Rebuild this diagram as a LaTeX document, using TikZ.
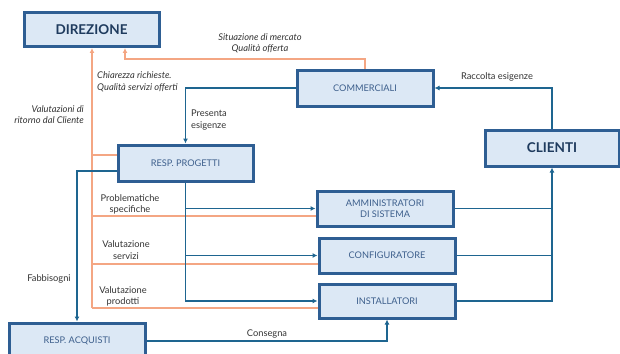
\documentclass[tikz,border=0pt]{standalone}
\usepackage{fontspec}
\setmainfont{Lato}
\usetikzlibrary{arrows.meta,calc}
\definecolor{boxfill}{HTML}{DCE8F5}
\definecolor{boxline}{HTML}{2E5E93}
\definecolor{flowblue}{HTML}{1E6590}
\definecolor{floworange}{HTML}{F4A683}
\definecolor{boxtext}{HTML}{3D5F8C}
\definecolor{headtext}{HTML}{1F3B5E}
\definecolor{labeltext}{HTML}{333333}
\tikzset{
  unitbox/.style={draw=boxline, line width=3pt, fill=boxfill, inner sep=0pt,
    align=center, text=boxtext, font=\fontsize{9.2}{11}\selectfont},
  headbox/.style={unitbox, text=headtext, font=\fontsize{13.5}{15}\selectfont\bfseries},
  bl/.style={draw=flowblue, line width=1.7pt},
  orl/.style={draw=floworange, line width=1.7pt},
  tip/.style={-{Latex[length=5pt,width=5pt]}},
  lbl/.style={text=labeltext, font=\fontsize{9.3}{11.5}\selectfont, align=center, inner sep=0pt},
  ilbl/.style={lbl, font=\fontsize{9.3}{11.5}\selectfont\itshape}
}
\begin{document}
\begin{tikzpicture}[x=1pt,y=-1pt]
\useasboundingbox (0,0) rectangle (620,353);

% units
\node[headbox, minimum width=135pt, minimum height=34pt] (dir) at (91.5,29.5) {DIREZIONE};
\node[unitbox, minimum width=136pt, minimum height=36pt] (comm) at (365,88) {COMMERCIALI};
\node[unitbox, minimum width=135pt, minimum height=36pt] (rp) at (185.5,163) {RESP. PROGETTI};
\node[headbox, minimum width=134pt, minimum height=36pt] (cli) at (552,148) {CLIENTI};
\node[unitbox, minimum width=136pt, minimum height=35pt] (amm) at (385,208.5) {AMMINISTRATORI\\DI SISTEMA};
\node[unitbox, minimum width=136pt, minimum height=35pt] (conf) at (387,255.5) {CONFIGURATORE};
\node[unitbox, minimum width=136pt, minimum height=34pt] (inst) at (387,301) {INSTALLATORI};
\node[unitbox, minimum width=136pt, minimum height=36pt] (acq) at (77,341) {RESP. ACQUISTI};

% feedback flows (orange)
\coordinate (fbbot) at (92,308);
\coordinate (mkt) at (125,59);
\draw[orl,tip] (comm.north) |- (mkt) -- (mkt |- dir.south);
\draw[orl,tip] (fbbot) -- (fbbot |- dir.south);
\draw[orl] (fbbot |- rp.west) ++(0,-8) -- ($(rp.west)+(0,-8)$);
\draw[orl] (fbbot |- amm.west) ++(0,7.5) -- ($(amm.west)+(0,7.5)$);
\draw[orl] (fbbot |- conf.west) ++(0,8.5) -- ($(conf.west)+(0,8.5)$);
\draw[orl] (fbbot) -- ($(inst.west)+(0,7)$);

% operational flows (blue)
\draw[bl,tip] (comm.west) -| (rp.north);
\draw[bl,tip] ($(rp.west)+(0,8)$) -| (acq.north);
\draw[bl,tip] (rp.south) |- (inst.west);
\draw[bl,tip] (rp.south |- amm.west) -- (amm.west);
\draw[bl,tip] (rp.south |- conf.west) -- (conf.west);
\draw[bl] (amm.east) -- (amm.east -| cli.south);
\draw[bl] (conf.east) -- (conf.east -| cli.south);
\draw[bl,tip] (inst.east) -| (cli.south);
\draw[bl,tip] (cli.north) |- (comm.east);
\draw[bl,tip] (acq.east) -| (inst.south);

% labels
\node[ilbl] at (260,43.5) {Situazione di mercato\\Qualità offerta};
\node[ilbl, anchor=west, align=left] at (97,82) {Chiarezza richieste.\\Qualità servizi offerti};
\node[ilbl, anchor=east, align=right] at (84,114.5) {Valutazioni di\\ritorno dal Cliente};
\node[lbl, anchor=west, align=left] at (191,120) {Presenta\\esigenze};
\node[lbl] at (497,77) {Raccolta esigenze};
\node[lbl] at (130,204.5) {Problematiche\\specifiche};
\node[lbl] at (126,250) {Valutazione\\servizi};
\node[lbl] at (123,296.5) {Valutazione\\prodotti};
\node[lbl] at (49,279) {Fabbisogni};
\node[lbl] at (267,334) {Consegna};
\end{tikzpicture}
\end{document}
